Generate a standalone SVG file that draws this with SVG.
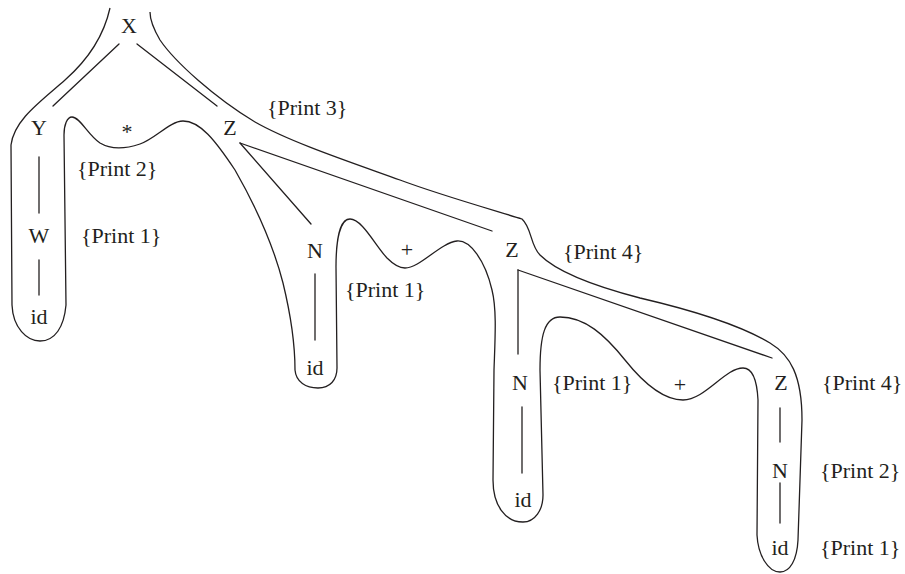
<svg xmlns="http://www.w3.org/2000/svg" width="905" height="574" viewBox="0 0 905 574">
<style>
text{font-family:"Liberation Serif","Times New Roman",serif;font-size:22px;fill:#231f20}
.n{text-anchor:middle}
.e{stroke:#231f20;stroke-width:1.3;fill:none;stroke-linecap:round}
.tour{stroke:#231f20;stroke-width:1.3;fill:none;stroke-linejoin:round}
</style>
<rect width="905" height="574" fill="#fff"/>
<g id="connectors">
<line class="e" x1="119" y1="44" x2="53" y2="106"/>
<line class="e" x1="137" y1="44" x2="217" y2="106"/>
<line class="e" x1="39" y1="157" x2="39" y2="213"/>
<line class="e" x1="39" y1="260" x2="39" y2="295"/>
<line class="e" x1="240" y1="143" x2="311" y2="224"/>
<line class="e" x1="240" y1="143" x2="492" y2="231"/>
<line class="e" x1="315" y1="274" x2="315" y2="340"/>
<line class="e" x1="518" y1="270" x2="518" y2="354"/>
<line class="e" x1="518" y1="270" x2="772" y2="358"/>
<line class="e" x1="522" y1="407" x2="522" y2="473"/>
<line class="e" x1="780" y1="408" x2="780" y2="442"/>
<line class="e" x1="780" y1="483" x2="780" y2="523"/>
</g>
<g id="tour">
<path class="tour" d="M110,8 C104,35 90,58 65,80 C40,102 14,120 11,145 L12,305 C13,328 27,341 40,341 C55,341 64,327 66,305 L64,135 C64,125 67,117 72,117 C80,117 88,135 100,143 C110,149 125,149 140,144 C155,139 170,121 183,121 C200,121 215,140 235,170 C255,205 272,240 283,283 C292,320 295,350 295,370 C296,382 306,388 318,388 C330,388 337,380 337,368 L336,267 C336,240 340,219 350,219 C362,219 375,245 387,258 C395,266 400,268 405,268 C420,268 440,243 457,241 C470,240 485,260 492,290 C497,310 495,340 494,370 L493,480 C493,505 505,522 523,522 C535,522 543,510 543,495 L540,370 C540,335 545,317 560,317 C585,317 605,335 625,360 C645,385 665,400 683,400 C705,400 725,368 743,368 C752,368 757,380 758,400 L757,535 C758,555 768,572 780,572 C790,572 797,560 798,540 L802,420 C802,375 790,355 770,343 C745,328 700,312 640,298 C590,285 555,270 540,255 C530,245 532,228 522,219 C500,212 440,195 400,180 C350,162 290,142 255,122 C215,98 175,62 160,40 C153,28 150,20 150,12"/>
</g>
<g id="node-X"><text class="n" x="129" y="33">X</text></g>
<g id="node-Y"><text class="n" x="39" y="135">Y</text></g>
<g id="node-star"><text class="n" x="127" y="139">*</text></g>
<g id="node-Z1"><text class="n" x="230" y="135">Z</text></g>
<g id="node-W"><text class="n" x="39" y="243">W</text></g>
<g id="node-id1"><text class="n" x="39" y="324">id</text></g>
<g id="node-N1"><text class="n" x="315" y="258">N</text></g>
<g id="node-id2"><text class="n" x="315" y="375">id</text></g>
<g id="node-plus1"><text class="n" x="407" y="257">+</text></g>
<g id="node-Z2"><text class="n" x="512" y="257">Z</text></g>
<g id="node-N2"><text class="n" x="520" y="390">N</text></g>
<g id="node-plus2"><text class="n" x="680" y="392">+</text></g>
<g id="node-Z3"><text class="n" x="781" y="390">Z</text></g>
<g id="node-id3"><text class="n" x="523" y="507">id</text></g>
<g id="node-N3"><text class="n" x="780" y="478">N</text></g>
<g id="node-id4"><text class="n" x="780" y="555">id</text></g>
<g id="actions">
<text x="267" y="115">{Print 3}</text>
<text x="77" y="176">{Print 2}</text>
<text x="81" y="243">{Print 1}</text>
<text x="345" y="297">{Print 1}</text>
<text x="563" y="259">{Print 4}</text>
<text x="552" y="390">{Print 1}</text>
<text x="822" y="390">{Print 4}</text>
<text x="820" y="478">{Print 2}</text>
<text x="820" y="555">{Print 1}</text>
</g>
</svg>
